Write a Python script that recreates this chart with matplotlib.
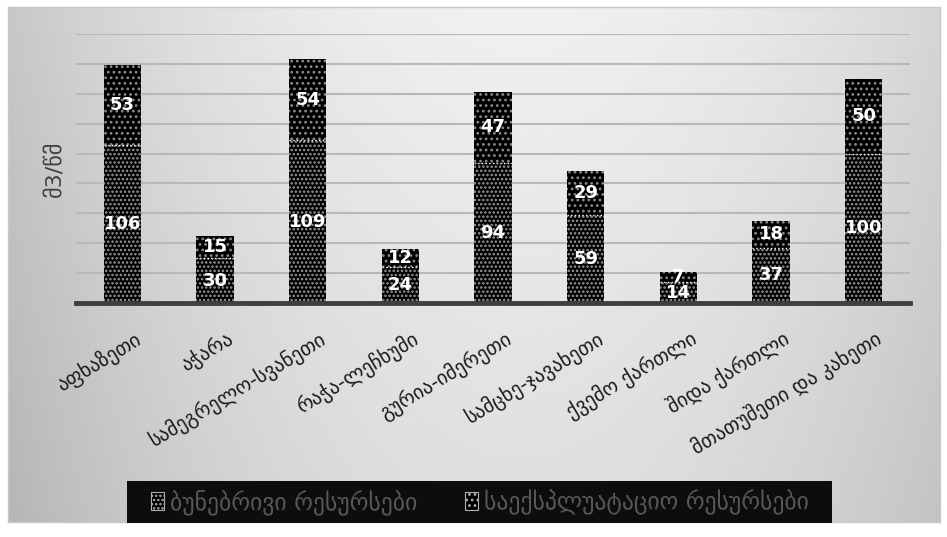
import numpy as np
import matplotlib
matplotlib.use("Agg")
import matplotlib.pyplot as plt
from matplotlib.patches import Rectangle

# მონაცემები
regions = ['აფხაზეთი', 'აჭარა', 'სამეგრელო-სვანეთი', 'რაჭა-ლეჩხუმი', 'გურია-იმერეთი',
           'სამცხე-ჯავახეთი', 'ქვემო ქართლი', 'შიდა ქართლი', 'მთათუშეთი და კახეთი']
natural = [106, 30, 109, 24, 94, 59, 14, 37, 100]
exploit = [53, 15, 54, 12, 47, 29, 7, 18, 50]
series_names = ['ბუნებრივი რესურსები', 'საექსპლუატაციო რესურსები']
y_label = 'მ3/წმ'

plt.rcParams['font.family'] = ['DejaVu Sans']
plt.rcParams['hatch.linewidth'] = 1.2

fig = plt.figure(figsize=(9.47, 5.37), dpi=100)

# ფონი - ნაცრისფერი გრადიენტი
bg = fig.add_axes([8/947, 1 - 522/537, 932/947, 515/537])
xx, yy = np.meshgrid(np.linspace(-1, 1, 300), np.linspace(0, 1, 200))
grad = 0.94 - 0.13 * (np.abs(xx - 0.1) ** 2) - 0.07 * yy
bg.imshow(grad, cmap='gray', vmin=0, vmax=1, aspect='auto', extent=[0, 1, 0, 1])
bg.set_xticks([]); bg.set_yticks([])
for s in bg.spines.values():
    s.set_color('#c8c8c8')
    s.set_linewidth(1)
bg.set_zorder(0)

ax = fig.add_axes([76/947, 1 - 303/537, 834/947, 269/537])
ax.set_zorder(1)
ax.patch.set_alpha(0)

x = np.arange(len(regions))
w = 0.4
b1 = ax.bar(x, natural, w, color='black', edgecolor='#9a9a9a', hatch='....', linewidth=0, zorder=3)
b2 = ax.bar(x, exploit, w, bottom=natural, color='black', edgecolor='#8a8a8a', hatch='...', linewidth=0, zorder=3)

# ზოლებს შორის თეთრი წერტილოვანი ხაზი
for xi, n in zip(x, natural):
    ax.plot([xi - w/2, xi + w/2], [n, n], color='white', lw=1, ls=':', zorder=4)

for xi, n, e in zip(x, natural, exploit):
    ax.text(xi, n / 2, str(n), ha='center', va='center', color='white',
            fontsize=13, fontweight='bold', zorder=5)
    ax.text(xi, n + e / 2, str(e), ha='center', va='center', color='white',
            fontsize=13, fontweight='bold', zorder=5)

ax.set_ylim(0, 180)
ax.set_xlim(-0.5, len(regions) - 0.5)
ax.set_yticks(np.arange(0, 181, 20))
ax.set_yticklabels([])
ax.tick_params(axis='y', length=0)
ax.tick_params(axis='x', length=0, pad=18)
ax.grid(axis='y', color='#b8b8b8', lw=1.5, zorder=0)
for s in ['top', 'right', 'left']:
    ax.spines[s].set_visible(False)
ax.spines['bottom'].set_color('#3f3f3f')
ax.spines['bottom'].set_linewidth(3.5)
ax.spines['bottom'].set_zorder(6)

ax.set_xticks(x + 0.12)
ax.set_xticklabels(regions, rotation=31, ha='right', rotation_mode='anchor',
                   fontsize=14.5, color='#1a1a1a')
ax.set_ylabel(y_label, fontsize=16, color='#404040', labelpad=4)

# ლეგენდა შავ ყუთში
fig.patches.append(Rectangle((127/947, 1 - 523/537), 705/947, 42/537,
                             transform=fig.transFigure, facecolor='#0d0d0d',
                             edgecolor='none', zorder=2))
leg = fig.legend([b1, b2], series_names, loc='center', ncol=2,
                 bbox_to_anchor=(480/947, 1 - 502/537), fontsize=17,
                 frameon=False, handlelength=0.55, handleheight=0.75,
                 handletextpad=0.25, columnspacing=2.0)
leg.set_zorder(3)
for h in leg.legend_handles:
    h.set_edgecolor('#b0b0b0')
    h.set_linewidth(0.8)
for t in leg.get_texts():
    t.set_color('#585858')

fig.savefig('out.png', dpi=100)
